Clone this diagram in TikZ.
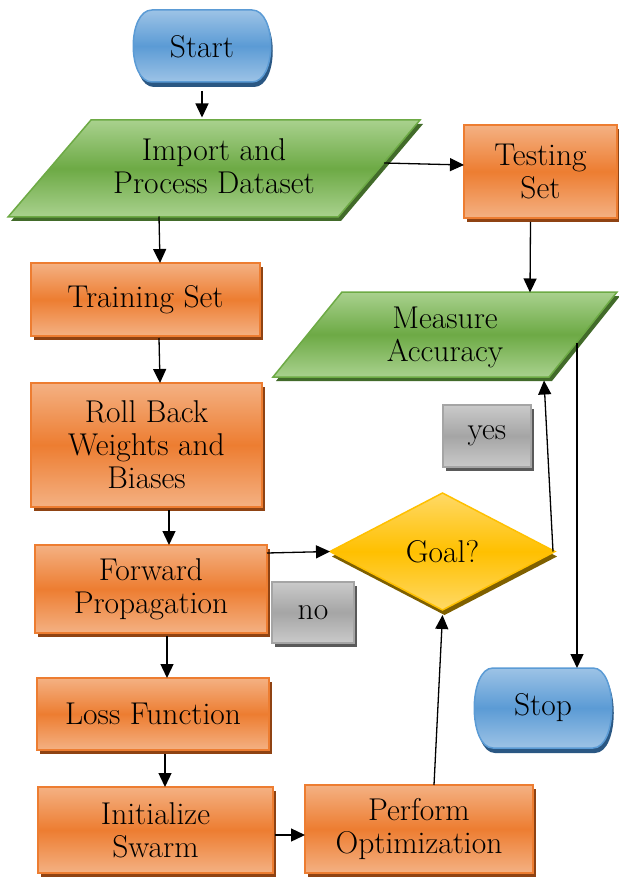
\documentclass[tikz,border=0pt]{standalone}
\usetikzlibrary{shapes.geometric,shadows,arrows.meta}
\definecolor{orm}{HTML}{ED7D31}
\definecolor{orl}{HTML}{F4B183}
\definecolor{ord}{HTML}{8F4313}
\definecolor{grm}{HTML}{6DAA45}
\definecolor{grl}{HTML}{A9D18E}
\definecolor{grd}{HTML}{426B2A}
\definecolor{blm}{HTML}{5B9BD5}
\definecolor{bll}{HTML}{9DC3E6}
\definecolor{bld}{HTML}{2A5783}
\definecolor{yem}{HTML}{FFC000}
\definecolor{yel}{HTML}{FFD966}
\definecolor{yed}{HTML}{7F6000}
\definecolor{gym}{HTML}{A5A5A5}
\definecolor{gyl}{HTML}{CACACA}
\definecolor{gyd}{HTML}{5A5A5A}
\begin{document}
\begin{tikzpicture}[x=1pt,y=-1pt,
  txt/.style={font=\fontsize{31.5}{33}\selectfont, align=center, inner sep=0pt, outer sep=0pt},
  lbl/.style={txt, draw=none, fill=none},
  sh/.style={drop shadow={shadow xshift=3pt, shadow yshift=-4pt, fill=#1, opacity=1}},
  box/.style={txt, rectangle, draw=orm, line width=1.5pt, top color=orl, bottom color=orl, middle color=orm, sh=ord},
  gbox/.style={txt, rectangle, draw=gym, line width=1.5pt, top color=gyl, bottom color=gyl, middle color=gym, sh=gyd},
  para/.style={draw=grm, line width=1.5pt, top color=grl, bottom color=grl, middle color=grm, sh=grd},
  term/.style={draw=blm, line width=1.5pt, top color=bll, bottom color=bll, middle color=blm,
    drop shadow={shadow xshift=2pt, shadow yshift=-5pt, fill=bld, opacity=1}},
  dia/.style={txt, diamond, draw=yem, line width=1.5pt, top color=yel, bottom color=yel, middle color=yem,
    drop shadow={shadow xshift=2pt, shadow yshift=-5pt, fill=yed, opacity=1}},
  arr/.style={draw=black, line width=1.3pt, -{Triangle[length=14pt,width=13pt]}}]
\useasboundingbox (0,0) rectangle (618,877);

% Start terminator
\path[term] (152,10) -- (252,10) .. controls (277,10) and (277,82) .. (252,82) -- (152,82) .. controls (127,82) and (127,10) .. cycle;
\node[lbl, minimum width=138, minimum height=72] (start) at (202,47) {Start};

% Import parallelogram
\path[para] (91,120) -- (420,120) -- (338,217) -- (8,217) -- cycle;
\node[lbl, minimum width=412, minimum height=97] (imp) at (214,166) {Import and\\Process Dataset};

% Testing set
\node[box, minimum width=153, minimum height=93] (test) at (540.5,171.5) {Testing\\Set};

% Training set
\node[box, minimum width=229, minimum height=73] (train) at (145.5,299.5) {Training Set};

% Measure accuracy
\path[para] (342,292) -- (617,292) -- (549,377) -- (273,377) -- cycle;
\node[lbl, minimum width=344, minimum height=85] (meas) at (445,337) {Measure\\Accuracy};

% Roll back
\node[box, minimum width=231, minimum height=124] (roll) at (146.5,445) {Roll Back\\Weights and\\Biases};

% yes
\node[gbox, minimum width=88, minimum height=62] (yes) at (487,436) {yes};

% Forward propagation
\node[box, minimum width=232, minimum height=88] (fwd) at (151,589) {Forward\\Propagation};

% Goal
\node[dia, minimum width=225, minimum height=117] (goal) at (442.5,551.5) {Goal?};

% no
\node[gbox, minimum width=82, minimum height=61] (no) at (313,612.5) {no};

% Loss function
\node[box, minimum width=232, minimum height=72] (loss) at (153,714) {Loss Function};

% Stop terminator
\path[term] (493,668) -- (593,668) .. controls (618,668) and (618,748) .. (593,748) -- (493,748) .. controls (468,748) and (468,668) .. cycle;
\node[lbl, minimum width=138, minimum height=80] (stop) at (543,708) {Stop};

% Initialize swarm
\node[box, minimum width=235, minimum height=86] (init) at (155.5,830) {Initialize\\Swarm};

% Perform optimization
\node[box, minimum width=228, minimum height=88] (perf) at (419,829) {Perform\\Optimization};

% connectors
\draw[arr] ([yshift=-8pt]start.south) -- (start.south |- imp.north);
\draw[arr] ([xshift=-36pt,yshift=3pt]imp.east) -- ([yshift=6.5pt]test.west);
\draw[arr] ([xshift=-55pt,yshift=-2pt]imp.south) -- ([xshift=14.5pt]train.north);
\draw[arr] ([xshift=-10pt,yshift=-4pt]test.south) -- ([xshift=85pt,yshift=2pt]meas.north);
\draw[arr] ([xshift=13.5pt,yshift=-2pt]train.south) -- ([xshift=13.5pt]roll.north);
\draw[arr] ([xshift=22.5pt,yshift=-3pt]roll.south) -- ([xshift=18pt]fwd.north);
\draw[arr] ([yshift=36pt]fwd.east) -- (goal.west);
\draw[arr] ([xshift=-2pt]goal.east) -- ([xshift=99pt,yshift=-1pt]meas.south);
\draw[arr] ([xshift=-40pt,yshift=-6pt]meas.east) -- ([xshift=34pt]stop.north);
\draw[arr] ([xshift=16pt,yshift=-3pt]fwd.south) -- ([xshift=14pt]loss.north);
\draw[arr] ([xshift=12pt,yshift=-4pt]loss.south) -- ([xshift=9.5pt]init.north);
\draw[arr] ([xshift=2pt,yshift=-5pt]init.east) -- ([yshift=-6pt]perf.west);
\draw[arr] ([xshift=15pt]perf.north) -- ([yshift=-5pt]goal.south);
\end{tikzpicture}
\end{document}
